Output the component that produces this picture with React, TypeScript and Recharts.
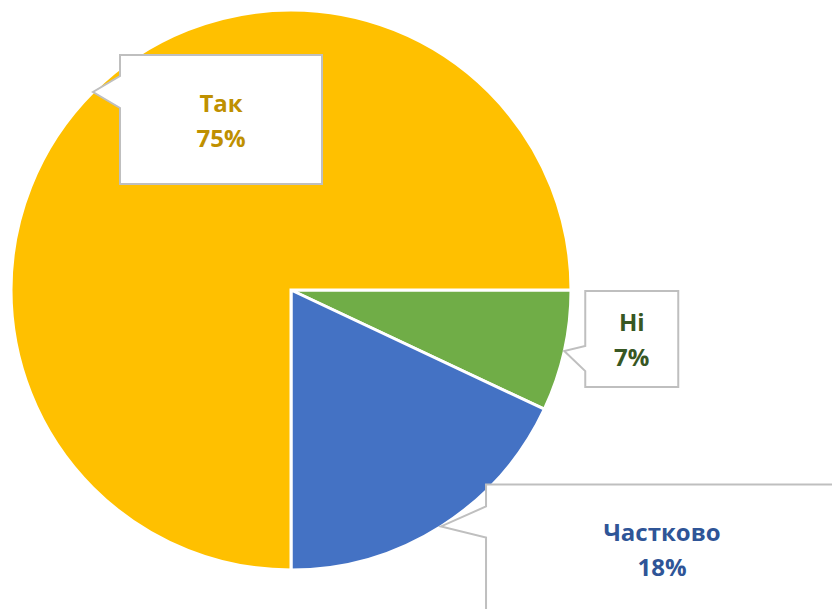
import React from "react";
import { PieChart, Pie, Cell } from "recharts";

const categories = ["Ні", "Частково", "Так"];
const values = [7, 18, 75];
const colors = ["#70AD47", "#4472C4", "#FFC000"];
const textColors = ["#385723", "#2F5597", "#BF9000"];

// callout geometry relative to the tip point on the outer arc
const callouts = [
  { bx: 21, by: -60, w: 93, h: 96, n1: -5, n2: 20 },
  { bx: 45, by: -42, w: 352, h: 129, n1: -20, n2: 11 },
  { bx: 27, by: -37, w: 202, h: 129, n1: -16, n2: 16 },
];

const data = categories.map((name, i) => ({ name, value: values[i] }));

const RAD = Math.PI / 180;

const renderLabel = (props: any) => {
  const { cx, cy, midAngle, outerRadius, index, name, value } = props;
  const c = callouts[index];
  const tx = cx + outerRadius * Math.cos(-midAngle * RAD);
  const ty = cy + outerRadius * Math.sin(-midAngle * RAD);
  const x0 = tx + c.bx;
  const y0 = ty + c.by;
  const x1 = x0 + c.w;
  const y1 = y0 + c.h;
  const d = `M${x0},${y0} L${x1},${y0} L${x1},${y1} L${x0},${y1} L${x0},${ty + c.n2} L${tx},${ty} L${x0},${ty + c.n1} Z`;
  const mx = (x0 + x1) / 2;
  const my = (y0 + y1) / 2;
  return (
    <g key={`lbl-${index}`}>
      <path d={d} fill="#FFFFFF" stroke="#BFBFBF" strokeWidth={2} />
      <text
        x={mx}
        y={my - 17.5}
        textAnchor="middle"
        dominantBaseline="central"
        fontFamily="'Open Sans', sans-serif"
        fontWeight={700}
        fontSize={24}
        fill={textColors[index]}
      >
        {name}
      </text>
      <text
        x={mx}
        y={my + 17.5}
        textAnchor="middle"
        dominantBaseline="central"
        fontFamily="'Open Sans', sans-serif"
        fontWeight={700}
        fontSize={24}
        fill={textColors[index]}
      >
        {`${value}%`}
      </text>
    </g>
  );
};

export default function App() {
  return (
    <div style={{ position: "absolute", left: 0, top: 0, width: 832, height: 609, background: "#FFFFFF" }}>
      <PieChart width={832} height={609} margin={{ top: 0, right: 0, bottom: 0, left: 0 }}>
        <Pie
          data={data}
          dataKey="value"
          nameKey="name"
          cx={291}
          cy={290}
          outerRadius={280}
          startAngle={0}
          endAngle={-360}
          stroke="#FFFFFF"
          strokeWidth={3}
          label={renderLabel}
          labelLine={false}
          isAnimationActive={false}
        >
          {data.map((d, i) => (
            <Cell key={d.name} fill={colors[i]} />
          ))}
        </Pie>
      </PieChart>
    </div>
  );
}
